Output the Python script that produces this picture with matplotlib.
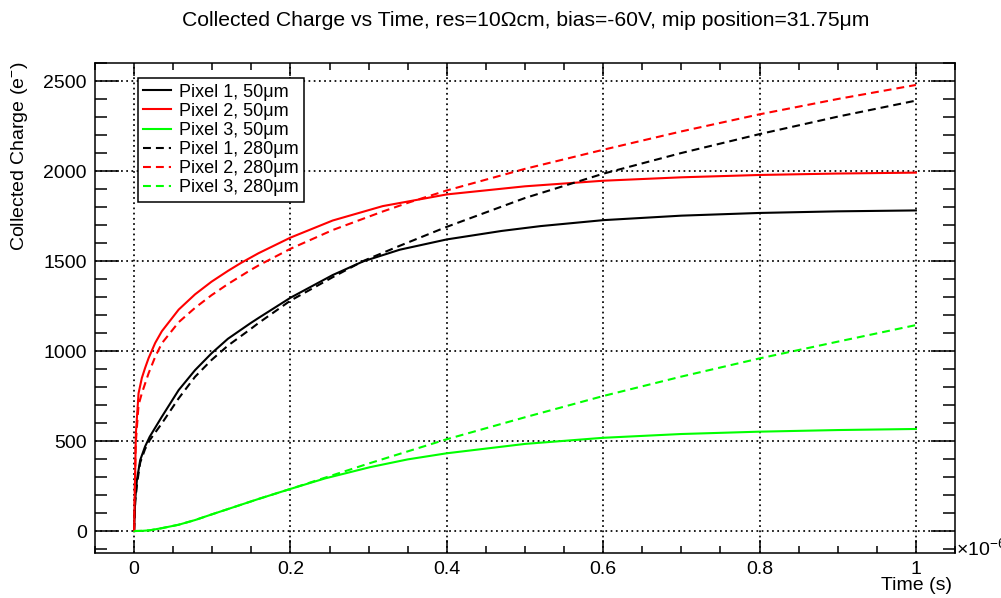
import matplotlib
matplotlib.use("Agg")
import matplotlib.pyplot as plt
from matplotlib.ticker import MultipleLocator

plt.rcParams['font.family'] = ['Liberation Sans', 'DejaVu Sans']
plt.rcParams['mathtext.fontset'] = 'custom'
plt.rcParams['mathtext.rm'] = 'Liberation Sans'
plt.rcParams['mathtext.default'] = 'regular'

# time in units of 1e-6 s, charge in electrons
t_p1_50 = [0, 0.0014, 0.0036, 0.0078, 0.014, 0.02, 0.0355, 0.057, 0.078, 0.099, 0.12, 0.149,
           0.16, 0.2, 0.254, 0.293, 0.34, 0.4, 0.47, 0.52, 0.6, 0.7, 0.8, 0.9, 1.0]
q_p1_50 = [0, 172, 283, 394, 469, 524, 635, 783, 894, 987, 1068, 1155,
           1186, 1296, 1422, 1498, 1563, 1620, 1667, 1694, 1727, 1752, 1767, 1776, 1781]

t_p2_50 = [0, 0.0023, 0.0057, 0.0099, 0.014, 0.0185, 0.027, 0.0355, 0.057, 0.078, 0.099, 0.12,
           0.137, 0.159, 0.2, 0.254, 0.318, 0.4, 0.5, 0.6, 0.7, 0.8, 0.9, 1.0]
q_p2_50 = [0, 543, 765, 850, 905, 960, 1045, 1110, 1230, 1315, 1385, 1445,
           1490, 1543, 1630, 1725, 1805, 1870, 1915, 1946, 1965, 1978, 1986, 1991]

t_p3_50 = [0, 0.01, 0.02, 0.0355, 0.057, 0.078, 0.099, 0.12, 0.159, 0.2, 0.244, 0.302, 0.35,
           0.4, 0.5, 0.6, 0.7, 0.8, 0.9, 1.0]
q_p3_50 = [0, 1, 4, 16, 35, 61, 92, 122, 178, 234, 292, 355, 398,
           432, 484, 518, 539, 552, 561, 567]

t_p1_280 = [0, 0.0014, 0.004, 0.0078, 0.014, 0.02, 0.0355, 0.057, 0.078, 0.099, 0.12, 0.149,
            0.159, 0.2, 0.254, 0.293, 0.34, 0.4, 0.5, 0.6, 0.7, 0.8, 0.9, 1.0]
q_p1_280 = [0, 160, 270, 380, 455, 505, 598, 737, 857, 950, 1030, 1122,
            1155, 1280, 1410, 1500, 1585, 1690, 1850, 1985, 2100, 2205, 2302, 2391]

t_p2_280 = [0, 0.002, 0.0057, 0.0099, 0.0185, 0.027, 0.0355, 0.057, 0.078, 0.099, 0.12, 0.149,
            0.159, 0.2, 0.254, 0.318, 0.352, 0.4, 0.5, 0.6, 0.7, 0.8, 0.9, 1.0]
q_p2_280 = [0, 480, 700, 765, 876, 968, 1043, 1160, 1240, 1310, 1372, 1450,
            1475, 1568, 1672, 1775, 1826, 1892, 2012, 2118, 2220, 2315, 2400, 2478]

t_p3_280 = [0, 0.01, 0.02, 0.0355, 0.057, 0.078, 0.099, 0.12, 0.159, 0.2, 0.244, 0.3, 0.4,
            0.5, 0.6, 0.7, 0.8, 0.9, 1.0]
q_p3_280 = [0, 1, 4, 16, 35, 61, 92, 122, 178, 234, 296, 375, 510,
            632, 750, 858, 959, 1052, 1144]

series = [
    (t_p1_50, q_p1_50, 'black', '-', 'Pixel 1, 50μm'),
    (t_p2_50, q_p2_50, 'red', '-', 'Pixel 2, 50μm'),
    (t_p3_50, q_p3_50, '#00ff00', '-', 'Pixel 3, 50μm'),
    (t_p1_280, q_p1_280, 'black', '--', 'Pixel 1, 280μm'),
    (t_p2_280, q_p2_280, 'red', '--', 'Pixel 2, 280μm'),
    (t_p3_280, q_p3_280, '#00ff00', '--', 'Pixel 3, 280μm'),
]

fig = plt.figure(figsize=(10.01, 5.98), dpi=100)
ax = fig.add_axes([95 / 1001, 1 - 553 / 598, 860 / 1001, 490 / 598])

for t, q, c, ls, lab in series:
    line, = ax.plot(t, q, color=c, linestyle=ls, linewidth=1.5, label=lab,
                    solid_joinstyle='round')
    if ls == '--':
        line.set_dashes((3.8, 2.4))

ax.set_xlim(-0.05, 1.05)
ax.set_ylim(-122, 2600)

ax.xaxis.set_minor_locator(MultipleLocator(0.05))
ax.yaxis.set_major_locator(MultipleLocator(500))
ax.yaxis.set_minor_locator(MultipleLocator(100))
ax.set_xticks([0, 0.2, 0.4, 0.6, 0.8, 1.0])
ax.set_xticklabels(['0', '0.2', '0.4', '0.6', '0.8', '1'])

ax.tick_params(which='both', direction='in', top=True, right=True, width=1.1,
               labelsize=14, pad=6)
ax.tick_params(axis='y', which='major', length=17)
ax.tick_params(axis='y', which='minor', length=8.5)
ax.tick_params(axis='x', which='major', length=9.5)
ax.tick_params(axis='x', which='minor', length=4.8)
for s in ax.spines.values():
    s.set_linewidth(1.1)

ax.grid(True, which='major', color='black', linestyle=(0, (1, 2)), linewidth=1.25)

leg = ax.legend(loc='upper left', bbox_to_anchor=(0.05, 0.969), fontsize=13,
                frameon=True, fancybox=False, edgecolor='black', framealpha=1,
                handlelength=1.5, handletextpad=0.45, labelspacing=0.12,
                borderpad=0.3, borderaxespad=0)
leg.get_frame().set_linewidth(1.1)

fig.text(526 / 1001, 1 - 20 / 598, 'Collected Charge vs Time, res=10Ωcm, bias=-60V, mip position=31.75μm',
         ha='center', va='center', fontsize=15.2)
fig.text(20 / 1001, 1 - 62 / 598, 'Collected Charge (e$^{-}$)', rotation=90,
         ha='center', va='top', fontsize=14)
fig.text(952 / 1001, 1 - 585 / 598, 'Time (s)', ha='right', va='center', fontsize=14)
fig.text(956 / 1001, 1 - 548 / 598, r'$\times10^{-6}$', ha='left', va='center', fontsize=14)

fig.savefig('out.png', dpi=100)
